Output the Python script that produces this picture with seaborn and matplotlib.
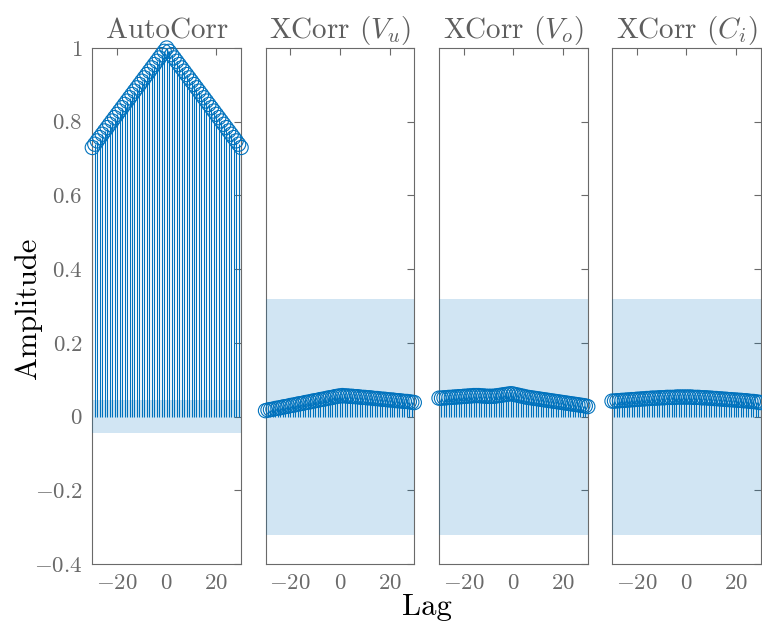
import numpy as np
import pandas as pd
import matplotlib
matplotlib.use('Agg')
import matplotlib.pyplot as plt
import seaborn as sns

sns.set_theme(style='white')
plt.rcParams['font.family'] = 'serif'
plt.rcParams['font.serif'] = ['cmr10', 'DejaVu Serif']
plt.rcParams['mathtext.fontset'] = 'cm'
plt.rcParams['axes.formatter.use_mathtext'] = True

# ---- данные ----
lags = list(range(-30, 31))

auto_corr = [0.730, 0.739, 0.748, 0.757, 0.766, 0.775, 0.784, 0.793, 0.802, 0.811,
             0.820, 0.829, 0.838, 0.847, 0.856, 0.865, 0.874, 0.883, 0.892, 0.901,
             0.910, 0.919, 0.928, 0.937, 0.946, 0.955, 0.964, 0.973, 0.982, 0.991,
             1.000,
             0.991, 0.982, 0.973, 0.964, 0.955, 0.946, 0.937, 0.928, 0.919, 0.910,
             0.901, 0.892, 0.883, 0.874, 0.865, 0.856, 0.847, 0.838, 0.829, 0.820,
             0.811, 0.802, 0.793, 0.784, 0.775, 0.766, 0.757, 0.748, 0.739, 0.730]

xcorr_vu = [0.016, 0.018, 0.019, 0.020, 0.022, 0.023, 0.024, 0.026, 0.027, 0.028,
            0.030, 0.031, 0.032, 0.034, 0.035, 0.036, 0.038, 0.039, 0.040, 0.042,
            0.043, 0.044, 0.046, 0.047, 0.048, 0.050, 0.051, 0.052, 0.054, 0.055,
            0.056,
            0.057, 0.056, 0.056, 0.055, 0.055, 0.054, 0.054, 0.053, 0.052, 0.052,
            0.051, 0.051, 0.050, 0.049, 0.049, 0.048, 0.047, 0.047, 0.046, 0.045,
            0.045, 0.044, 0.043, 0.043, 0.042, 0.041, 0.041, 0.040, 0.039, 0.038]

xcorr_vo = [0.050, 0.050, 0.051, 0.051, 0.052, 0.052, 0.053, 0.053, 0.054, 0.054,
            0.055, 0.055, 0.056, 0.056, 0.057, 0.057, 0.057, 0.056, 0.056, 0.055,
            0.055, 0.055, 0.055, 0.056, 0.057, 0.058, 0.059, 0.060, 0.061, 0.062,
            0.061,
            0.059, 0.058, 0.056, 0.055, 0.053, 0.052, 0.051, 0.050, 0.049, 0.048,
            0.047, 0.046, 0.045, 0.044, 0.043, 0.042, 0.041, 0.040, 0.039, 0.038,
            0.037, 0.036, 0.035, 0.034, 0.033, 0.032, 0.031, 0.030, 0.029, 0.027]

xcorr_ci = [0.042, 0.042, 0.043, 0.043, 0.044, 0.044, 0.045, 0.045, 0.046, 0.046,
            0.047, 0.047, 0.048, 0.048, 0.049, 0.049, 0.050, 0.050, 0.050, 0.051,
            0.051, 0.051, 0.052, 0.052, 0.052, 0.052, 0.053, 0.053, 0.053, 0.053,
            0.053,
            0.053, 0.053, 0.052, 0.052, 0.052, 0.051, 0.051, 0.051, 0.050, 0.050,
            0.049, 0.049, 0.048, 0.048, 0.047, 0.047, 0.046, 0.046, 0.045, 0.045,
            0.044, 0.044, 0.043, 0.043, 0.042, 0.041, 0.041, 0.040, 0.039, 0.038]

titles = ['AutoCorr', r'XCorr ($V_u$)', r'XCorr ($V_o$)', r'XCorr ($C_i$)']
series = [auto_corr, xcorr_vu, xcorr_vo, xcorr_ci]
bounds = [0.045, 0.32, 0.32, 0.32]   # доверительные границы

x_ticks = [-20, 0, 20]
y_ticks = [-0.4, -0.2, 0, 0.2, 0.4, 0.6, 0.8, 1]

blue = '#0072BD'
gray = '#6a6a6a'

# ---- рисунок ----
W, H = 762, 626
fig = plt.figure(figsize=(W / 100, H / 100), dpi=100)

lefts = [92.3, 265.5, 439.0, 612.0]
ax_w, ax_bottom, ax_top = 148.8, 564, 48

for i, (vals, title, b) in enumerate(zip(series, titles, bounds)):
    ax = fig.add_axes([lefts[i] / W, (H - ax_bottom) / H,
                       ax_w / W, (ax_bottom - ax_top) / H])
    df = pd.DataFrame({'Lag': lags, 'Value': vals})

    ax.vlines(df['Lag'], 0, df['Value'], color=blue, lw=0.8, zorder=2)
    ax.fill_between(df['Lag'], -b, b, color=blue, alpha=0.18, lw=0, zorder=3)
    sns.scatterplot(data=df, x='Lag', y='Value', ax=ax, marker='o', s=105,
                    facecolors='none', edgecolor=blue, linewidth=0.8,
                    zorder=4, legend=False)
    ax.collections[-1].set_clip_on(False)

    ax.set_xlim(-30, 30)
    ax.set_ylim(-0.4, 1)
    ax.set_xticks(x_ticks)
    ax.set_xticklabels([f'${v:g}$' for v in x_ticks])
    ax.set_yticks(y_ticks)
    if i == 0:
        ax.set_yticklabels([f'${v:g}$' for v in y_ticks])
    else:
        ax.set_yticklabels([])
    ax.set_xlabel('')
    ax.set_ylabel('')
    ax.tick_params(direction='in', length=5, width=0.8, colors=gray,
                   labelsize=16.5, top=True, right=True, pad=7)
    for sp in ax.spines.values():
        sp.set_color(gray)
        sp.set_linewidth(0.8)
    ax.set_title(title, fontsize=21, color='#5e5e5e', pad=7)

fig.text(28 / W, 1 - 308 / H, 'Amplitude', rotation=90, ha='center',
         va='center', fontsize=22, color='black')
fig.text(427 / W, 1 - 607 / H, 'Lag', ha='center', va='center',
         fontsize=22, color='black')

fig.savefig('out.png', dpi=100)
